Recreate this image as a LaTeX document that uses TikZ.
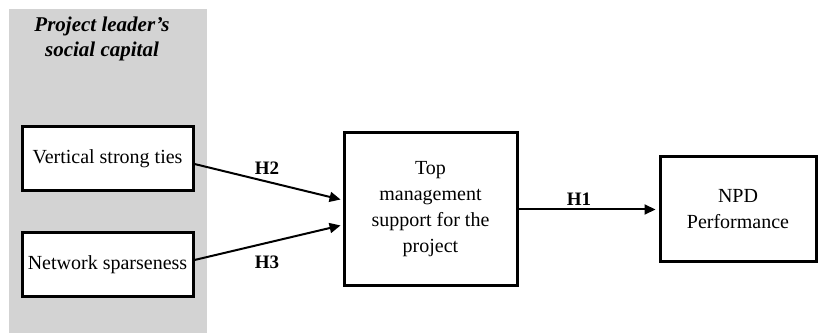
\documentclass[tikz,border=0pt]{standalone}
\usepackage{fontspec}
\setmainfont{Liberation Serif}
\usetikzlibrary{arrows.meta}
\definecolor{panelgray}{RGB}{211,211,211}
\tikzset{
  box/.style={draw=black, line width=3pt, fill=white, align=center, inner sep=2pt,
    font=\fontsize{20}{26}\selectfont},
  arr/.style={line width=2pt, -{Triangle[length=11pt,width=10pt]}},
  hlabel/.style={font=\fontsize{19}{22}\selectfont\bfseries, inner sep=0pt},
  title/.style={font=\fontsize{21}{25}\selectfont\bfseries\itshape, align=center, inner sep=0pt}
}
\begin{document}
\begin{tikzpicture}[x=1pt,y=-1pt]
\useasboundingbox (0,0) rectangle (819,336);
\fill[panelgray] (9,9) rectangle (207,333);
\node[title] (ttl) at (102,39) {Project leader’s\\social capital};
\node[box, minimum width=171pt, minimum height=64pt] (v) at (107.5,159) {Vertical strong ties};
\node[box, minimum width=171pt, minimum height=64pt] (n) at (107.5,265) {Network sparseness};
\node[box, minimum width=173pt, minimum height=153pt] (t) at (430.5,209.5) {Top\\management\\support for the\\project};
\node[box, minimum width=156pt, minimum height=105pt] (p) at (738,209.5) {NPD\\Performance};
\draw[arr, shorten >=2pt] ([yshift=-5pt]v.east) -- ([yshift=9.5pt]t.west);
\draw[arr, shorten >=2pt] ([yshift=5pt]n.east) -- ([yshift=-15.5pt]t.west);
\draw[arr, shorten >=3pt] (t.east) -- (p.west);
\node[hlabel] (h2) at (267,168) {H2};
\node[hlabel] (h3) at (267,262) {H3};
\node[hlabel] (h1) at (579,199) {H1};
\end{tikzpicture}
\end{document}
